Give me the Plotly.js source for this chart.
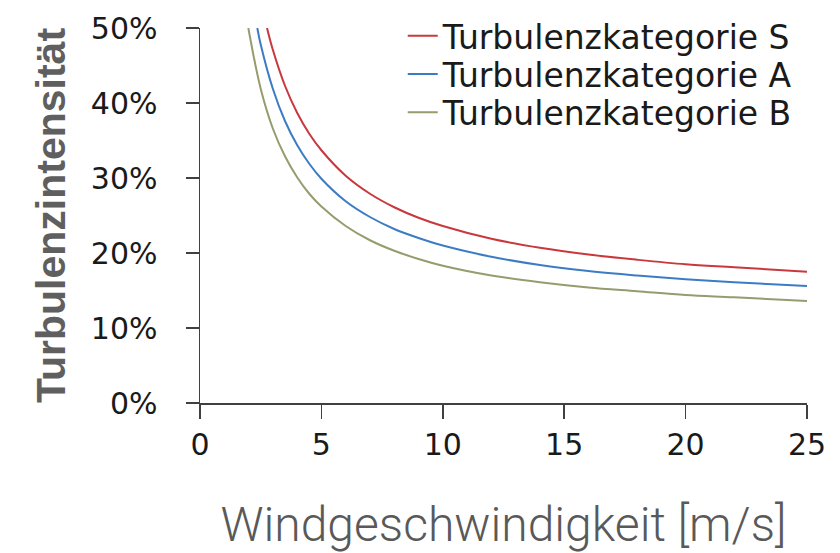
<!DOCTYPE html>
<html>
<head>
<meta charset="utf-8">
<script src="https://cdn.plot.ly/plotly-3.0.1.min.js"></script>
<style>html,body{margin:0;padding:0;background:#fff;}#chart{width:840px;height:553px;}</style>
</head>
<body>
<div id="chart"></div>
<script>
// Wind speed [m/s] and turbulence intensity
const speedS = [2.76, 3, 3.5, 4, 4.5, 5, 6, 7, 8, 9, 10, 12, 14, 16, 18, 20, 22, 25];
const tiS    = [0.500, 0.471, 0.423, 0.387, 0.359, 0.337, 0.303, 0.279, 0.261, 0.247, 0.236, 0.219, 0.207, 0.198, 0.191, 0.185, 0.181, 0.175];
const speedA = [2.36, 2.5, 3, 3.5, 4, 4.5, 5, 6, 7, 8, 9, 10, 12, 14, 16, 18, 20, 22, 25];
const tiA    = [0.500, 0.478, 0.419, 0.376, 0.344, 0.319, 0.299, 0.269, 0.248, 0.232, 0.220, 0.210, 0.195, 0.184, 0.176, 0.170, 0.165, 0.161, 0.156];
const speedB = [1.99, 2.5, 3, 3.5, 4, 4.5, 5, 6, 7, 8, 9, 10, 12, 14, 16, 18, 20, 22, 25];
const tiB    = [0.500, 0.419, 0.366, 0.329, 0.301, 0.279, 0.262, 0.236, 0.217, 0.203, 0.192, 0.183, 0.170, 0.161, 0.154, 0.149, 0.144, 0.141, 0.136];
const seriesNames = ['Turbulenzkategorie S', 'Turbulenzkategorie A', 'Turbulenzkategorie B'];
const xTicks = [0, 5, 10, 15, 20, 25];
const yTicks = [0, 0.1, 0.2, 0.3, 0.4, 0.5];

const colors = ['#c8383c', '#3c7cc4', '#979b6e'];
const xs = [speedS, speedA, speedB];
const ys = [tiS, tiA, tiB];
const legendIds = ['legend', 'legend2', 'legend3'];
const traces = seriesNames.map((n, i) => ({
  x: xs[i], y: ys[i], name: n, type: 'scatter', mode: 'lines', legend: legendIds[i],
  line: {color: colors[i], width: 2, shape: 'spline', smoothing: 1}
}));

const tickFont = {family: 'DejaVu Sans', size: 30, color: '#1a1a1a'};
const legendFont = {family: 'DejaVu Sans', size: 33, color: '#1a1a1a'};
const legendY = [0.979, 0.877, 0.775];
const layout = {
  width: 840, height: 553,
  margin: {l: 200, r: 33, t: 28, b: 150, autoexpand: false},
  paper_bgcolor: '#fff', plot_bgcolor: '#fff',
  showlegend: true,
  xaxis: {range: [0, 25], tickvals: xTicks, ticktext: xTicks.map(String), automargin: false,
    showgrid: false, zeroline: false, showline: true, linecolor: '#404040', linewidth: 1.5,
    ticks: 'outside', ticklen: 14, tickwidth: 1.5, tickcolor: '#404040',
    tickfont: tickFont, ticklabelstandoff: 0,
    title: {text: 'Windgeschwindigkeit [m/s]', standoff: 58,
      font: {family: 'Roboto', weight: 300, size: 48, color: '#595959'}}},
  yaxis: {range: [0, 0.5], tickvals: yTicks, tickformat: '.0%', automargin: false,
    showgrid: false, zeroline: false, showline: true, linecolor: '#404040', linewidth: 1.5,
    ticks: 'outside', ticklen: 13, tickwidth: 1.5, tickcolor: '#404040',
    tickfont: tickFont, ticklabelstandoff: 22,
    title: {text: 'Turbulenzintensität', standoff: 12,
      font: {family: 'Liberation Sans', weight: 'bold', size: 41, color: '#5f5f5f'}}}
};
legendIds.forEach((id, i) => {
  layout[id] = {x: 0.334, y: legendY[i], xanchor: 'left', yanchor: 'middle',
    font: legendFont, bgcolor: 'rgba(0,0,0,0)', borderwidth: 0};
});
Plotly.newPlot('chart', traces, layout, {staticPlot: true, displayModeBar: false});
</script>
</body>
</html>
